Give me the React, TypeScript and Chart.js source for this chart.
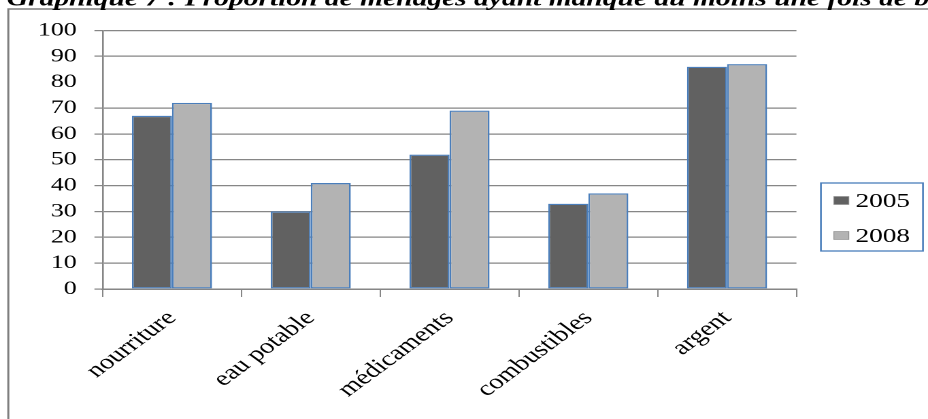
import { useEffect, useRef } from 'react';
import { Chart, registerables } from 'chart.js';

Chart.register(...registerables);

// Chart data
const categories = ['nourriture', 'eau potable', 'médicaments', 'combustibles', 'argent'];
const seriesLabels = ['2005', '2008'];
const values2005 = [67, 30, 52, 33, 86];
const values2008 = [72, 41, 69, 37, 87];
const yMin = 0;
const yMax = 100;
const yStep = 10;
const titleText =
  'Graphique 7 : Proportion de ménages ayant manqué au moins une fois de biens essentiels';

// The chart is laid out on a narrower logical canvas and shown wider on screen.
const LOGICAL_W = 682;
const LOGICAL_H = 419;
const SHOWN_W = 928;
const SHOWN_H = 419;

const SERIF = '"Liberation Serif", "Times New Roman", serif';
const GRID = '#868686';
const DARK = '#616161';
const LIGHT = '#b3b3b3';
const EDGE = '#4a7ebb';

// White background, outer frame and the heading line.
const frameAndTitle = {
  id: 'frameAndTitle',
  beforeDraw(chart: any) {
    const ctx = chart.ctx as CanvasRenderingContext2D;
    ctx.save();
    ctx.fillStyle = '#ffffff';
    ctx.fillRect(0, 0, chart.width, chart.height);
    ctx.strokeStyle = '#7f7f7f';
    ctx.lineWidth = 1.5;
    ctx.beginPath();
    ctx.moveTo(6.1, chart.height + 5);
    ctx.lineTo(6.1, 9);
    ctx.lineTo(chart.width + 5, 9);
    ctx.stroke();
    ctx.fillStyle = '#000000';
    ctx.font = `italic bold 21.7px ${SERIF}`;
    ctx.textBaseline = 'alphabetic';
    ctx.textAlign = 'left';
    ctx.fillText(titleText, 5, 5.5);
    ctx.restore();
  },
};

// Boxed legend to the right of the plot area.
const boxedLegend = {
  id: 'boxedLegend',
  afterDraw(chart: any) {
    const ctx = chart.ctx as CanvasRenderingContext2D;
    const area = chart.chartArea;
    const x = area.right + 18;
    const y = 183;
    const w = 75;
    const h = 68;
    ctx.save();
    ctx.strokeStyle = EDGE;
    ctx.lineWidth = 1.3;
    ctx.strokeRect(x, y, w, h);
    ctx.font = `20px ${SERIF}`;
    ctx.textBaseline = 'middle';
    ctx.textAlign = 'left';
    chart.data.datasets.forEach((ds: any, i: number) => {
      const cy = y + 17.5 + i * 35;
      ctx.fillStyle = ds.backgroundColor;
      ctx.fillRect(x + 9.5, cy - 4, 11, 8);
      ctx.strokeStyle = '#8c8c8c';
      ctx.lineWidth = 0.6;
      ctx.strokeRect(x + 9.5, cy - 4, 11, 8);
      ctx.fillStyle = '#000000';
      ctx.fillText(ds.label, x + 25.5, cy + 1);
    });
    ctx.restore();
  },
};

export default function App() {
  const canvasRef = useRef<HTMLCanvasElement | null>(null);

  useEffect(() => {
    const canvas = canvasRef.current;
    if (!canvas) return;
    const chart = new Chart(canvas, {
      type: 'bar',
      data: {
        labels: categories,
        datasets: [
          {
            label: seriesLabels[0],
            data: values2005,
            backgroundColor: DARK,
            borderColor: EDGE,
            borderWidth: 1.3,
            borderSkipped: false,
            categoryPercentage: 0.577,
            barPercentage: 1,
          },
          {
            label: seriesLabels[1],
            data: values2008,
            backgroundColor: LIGHT,
            borderColor: EDGE,
            borderWidth: 1.3,
            borderSkipped: false,
            categoryPercentage: 0.577,
            barPercentage: 1,
          },
        ],
      },
      options: {
        responsive: false,
        devicePixelRatio: 2,
        animation: false,
        layout: { padding: { top: 30.5, right: LOGICAL_W - 585.3, bottom: 0, left: 0 } },
        plugins: {
          legend: { display: false },
          title: { display: false },
          tooltip: { enabled: false },
        },
        scales: {
          x: {
            grid: {
              display: true,
              drawOnChartArea: false,
              drawTicks: true,
              tickLength: 8,
              color: GRID,
              lineWidth: 1,
              offset: true,
            },
            border: { display: true, color: GRID, width: 1.5 },
            ticks: {
              font: { family: SERIF, size: 21 },
              color: '#000000',
              minRotation: 45,
              maxRotation: 45,
              autoSkip: false,
              padding: 9,
            },
            afterFit: (scale: any) => {
              scale.height = LOGICAL_H - 289;
            },
          },
          y: {
            min: yMin,
            max: yMax,
            ticks: {
              stepSize: yStep,
              font: { family: SERIF, size: 19 },
              color: '#000000',
              padding: 13,
            },
            grid: {
              color: (c: any) => (c.tick && c.tick.value === 80 ? 'rgba(0,0,0,0)' : GRID),
              lineWidth: 1.2,
              tickLength: 6,
            },
            border: { display: true, color: GRID, width: 1.3 },
            afterFit: (scale: any) => {
              scale.width = 75.4;
            },
          },
        },
      },
      plugins: [frameAndTitle, boxedLegend],
    });
    return () => chart.destroy();
  }, []);

  return (
    <div
      style={{
        position: 'absolute',
        left: 0,
        top: 0,
        width: SHOWN_W,
        height: SHOWN_H,
        overflow: 'hidden',
        background: '#ffffff',
      }}
    >
      <canvas
        ref={canvasRef}
        width={LOGICAL_W}
        height={LOGICAL_H}
        style={{ width: `${SHOWN_W}px`, height: `${SHOWN_H}px`, display: 'block' }}
      />
    </div>
  );
}
